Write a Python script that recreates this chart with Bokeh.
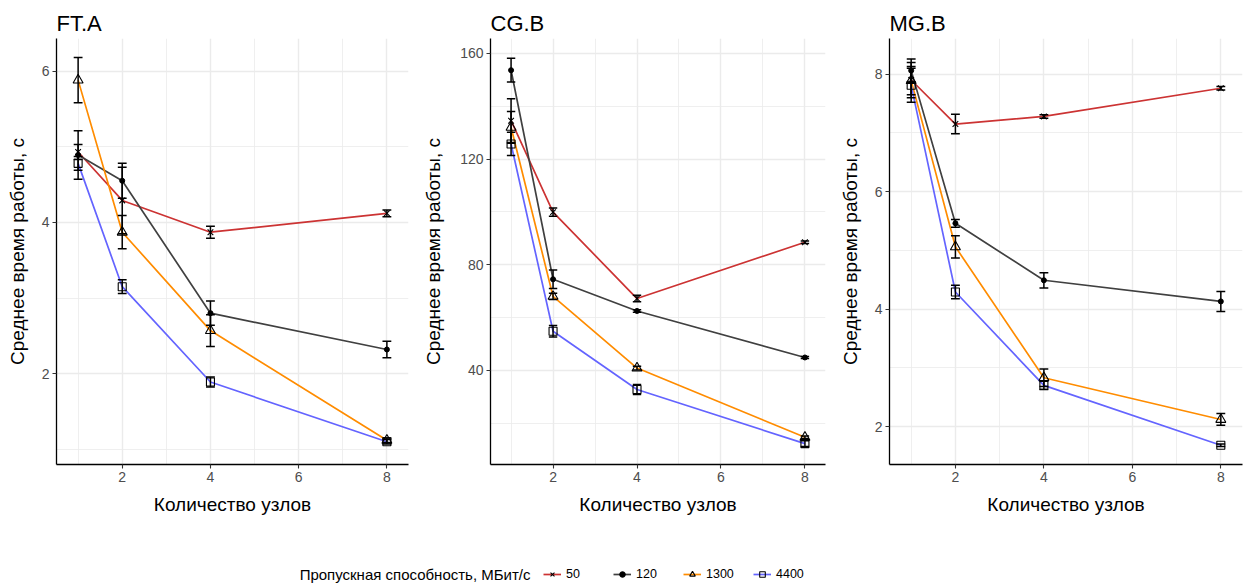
from bokeh.plotting import figure
from bokeh.models import Range1d, FixedTicker, ColumnDataSource, Legend, LegendItem, Label
from bokeh.layouts import column, row
from bokeh.embed import file_html
from bokeh.resources import INLINE

FONT = "Liberation Sans"

# ---------------- data ----------------
nodes = [1, 2, 4, 8]
bandwidths = ["50", "120", "1300", "4400"]
x_ticks = [2, 4, 6, 8]
x_minor = [1, 3, 5, 7]

# FT.A
ft_50 = [4.93, 4.29, 3.87, 4.12]
ft_50_err = [0.10, 0.44, 0.08, 0.045]
ft_120 = [4.89, 4.55, 2.80, 2.32]
ft_120_err = [0.32, 0.23, 0.16, 0.11]
ft_1300 = [5.88, 3.87, 2.57, 1.12]
ft_1300_err = [0.30, 0.22, 0.21, 0.03]
ft_4400 = [4.78, 3.15, 1.89, 1.10]
ft_4400_err = [0.09, 0.09, 0.065, 0.03]
ft_yticks = [2, 4, 6]
ft_yminor = [1, 3, 5]

# CG.B
cg_50 = [134.5, 99.9, 67.2, 88.5]
cg_50_err = [8.3, 1.6, 1.2, 0.5]
cg_120 = [153.6, 74.5, 62.5, 44.9]
cg_120_err = [4.5, 3.5, 0.5, 0.4]
cg_1300 = [132.0, 68.0, 40.9, 14.7]
cg_1300_err = [6.0, 1.2, 0.7, 0.5]
cg_4400 = [125.7, 54.8, 32.8, 12.3]
cg_4400_err = [4.4, 2.2, 1.9, 1.1]
cg_yticks = [40, 80, 120, 160]
cg_yminor = [20, 60, 100, 140]

# MG.B
mg_50 = [7.90, 7.15, 7.28, 7.76]
mg_50_err = [0.30, 0.165, 0.03, 0.03]
mg_120 = [8.06, 5.46, 4.49, 4.13]
mg_120_err = [0.20, 0.065, 0.13, 0.17]
mg_1300 = [7.89, 5.06, 2.83, 2.12]
mg_1300_err = [0.24, 0.19, 0.15, 0.10]
mg_4400 = [7.81, 4.29, 2.70, 1.68]
mg_4400_err = [0.29, 0.115, 0.07, 0.02]
mg_yticks = [2, 4, 6, 8]
mg_yminor = [3, 5, 7]

# ---------------- styles ----------------
colors = ["#CC3333", "#404040", "#FF8C00", "#6464FF"]
markers = ["x", "circle", "triangle", "square"]
msizes = [8, 5, 10, 8]
CAP = 0.1

panels = [
    dict(title="FT.A", means=[ft_50, ft_120, ft_1300, ft_4400],
         errs=[ft_50_err, ft_120_err, ft_1300_err, ft_4400_err],
         yr=(0.80, 6.43), yt=ft_yticks, ym=ft_yminor,
         width=420, left=56, frame=352, lstand=11),
    dict(title="CG.B", means=[cg_50, cg_120, cg_1300, cg_4400],
         errs=[cg_50_err, cg_120_err, cg_1300_err, cg_4400_err],
         yr=(4.4, 165.6), yt=cg_yticks, ym=cg_yminor,
         width=416, left=69, frame=336, lstand=13),
    dict(title="MG.B", means=[mg_50, mg_120, mg_1300, mg_4400],
         errs=[mg_50_err, mg_120_err, mg_1300_err, mg_4400_err],
         yr=(1.353, 8.607), yt=mg_yticks, ym=mg_yminor,
         width=409, left=53, frame=353, lstand=11),
]

PH = 548
figs = []
for cfg in panels:
    p = figure(width=cfg["width"], height=PH,
               x_range=Range1d(0.51, 8.49), y_range=Range1d(*cfg["yr"]),
               output_backend="svg", toolbar_location=None,
               min_border_left=cfg["left"],
               min_border_right=cfg["width"] - cfg["left"] - cfg["frame"],
               min_border_top=38, min_border_bottom=PH - 38 - 426)
    p.outline_line_color = None
    p.background_fill_color = "white"
    p.border_fill_color = "white"

    p.title.text = cfg["title"]
    p.title.text_font = FONT
    p.title.text_font_size = "22px"
    p.title.text_font_style = "normal"
    p.title.text_color = "black"
    p.title.align = "left"
    p.title.standoff = 5

    p.xaxis.ticker = FixedTicker(ticks=x_ticks, minor_ticks=x_minor)
    p.yaxis.ticker = FixedTicker(ticks=cfg["yt"], minor_ticks=cfg["ym"])
    p.xaxis.axis_label = "Количество узлов"
    p.yaxis.axis_label = "Среднее время работы, с"
    for ax in (p.xaxis, p.yaxis):
        ax.axis_label_text_font = FONT
        ax.axis_label_text_font_size = "19px"
        ax.axis_label_text_font_style = "normal"
        ax.axis_label_text_color = "black"
        ax.major_label_text_font = FONT
        ax.major_label_text_font_size = "14px"
        ax.major_label_text_color = "#4D4D4D"
        ax.axis_line_color = "black"
        ax.axis_line_width = 1.3
        ax.major_tick_line_color = "#333333"
        ax.major_tick_line_width = 1.1
        ax.major_tick_out = 4
        ax.major_tick_in = 0
        ax.minor_tick_out = 0
        ax.minor_tick_in = 0
    p.yaxis.major_label_standoff = 3
    p.xaxis.major_label_standoff = 3
    p.yaxis.axis_label_standoff = cfg["lstand"]
    p.xaxis.axis_label_standoff = 9

    for g in (p.xgrid, p.ygrid):
        g.grid_line_color = "#EBEBEB"
        g.grid_line_width = 1.4
        g.minor_grid_line_color = "#EBEBEB"
        g.minor_grid_line_width = 0.8

    sources = []
    for i in range(4):
        m = cfg["means"][i]
        e = cfg["errs"][i]
        src = ColumnDataSource(dict(
            x=nodes, y=m,
            lo=[a - b for a, b in zip(m, e)],
            hi=[a + b for a, b in zip(m, e)],
            cl=[x - CAP for x in nodes],
            cr=[x + CAP for x in nodes],
        ))
        sources.append(src)
    for i in range(4):
        p.line("x", "y", source=sources[i], line_color=colors[i], line_width=1.7)
    for i in range(4):
        s = sources[i]
        p.segment(x0="x", y0="lo", x1="x", y1="hi", source=s, line_color="black", line_width=1.5)
        p.segment(x0="cl", y0="lo", x1="cr", y1="lo", source=s, line_color="black", line_width=1.5)
        p.segment(x0="cl", y0="hi", x1="cr", y1="hi", source=s, line_color="black", line_width=1.5)
    for i in range(4):
        if markers[i] == "circle":
            p.scatter("x", "y", source=sources[i], marker="circle", size=msizes[i],
                      fill_color="black", line_color="black")
        else:
            p.scatter("x", "y", source=sources[i], marker=markers[i], size=msizes[i],
                      fill_alpha=0, line_color="black", line_width=1.1)
    figs.append(p)

# ---------------- legend ----------------
lw = sum(c["width"] for c in panels)
LH = 38
pl = figure(width=lw, height=LH, x_range=Range1d(0, lw), y_range=Range1d(0, LH),
            output_backend="svg", toolbar_location=None,
            min_border=0, x_axis_type=None, y_axis_type=None)
pl.outline_line_color = None
pl.xgrid.visible = False
pl.ygrid.visible = False
items = []
for i in range(4):
    # off-canvas placeholder renderers: only used to draw the legend keys
    r1 = pl.line(x=[-100, -90], y=[-100, -100], line_color=colors[i], line_width=1.7)
    if markers[i] == "circle":
        r2 = pl.scatter(x=[-100], y=[-100], marker="circle", size=5,
                        fill_color="black", line_color="black")
    else:
        r2 = pl.scatter(x=[-100], y=[-100], marker=markers[i], size=8, fill_alpha=0,
                        line_color="black", line_width=1.1)
    items.append(LegendItem(label=bandwidths[i], renderers=[r1, r2]))
leg = Legend(items=items, orientation="horizontal", location=(543, 5),
             border_line_color=None, background_fill_alpha=0,
             padding=0, margin=0, spacing=17,
             glyph_width=18, glyph_height=14, label_height=14, label_width=30,
             label_standoff=5,
             label_text_font=FONT, label_text_font_size="12.5px",
             label_text_color="black")
pl.add_layout(leg, "center")
pl.add_layout(Label(x=530, y=12, x_units="screen", y_units="screen",
                    text="Пропускная способность, МБит/с",
                    text_align="right", text_baseline="middle",
                    text_font=FONT, text_font_size="15px", text_color="black"))

layout = column(row(*figs, spacing=0), pl, spacing=0)
open("out.html", "w").write(file_html(layout, INLINE))
